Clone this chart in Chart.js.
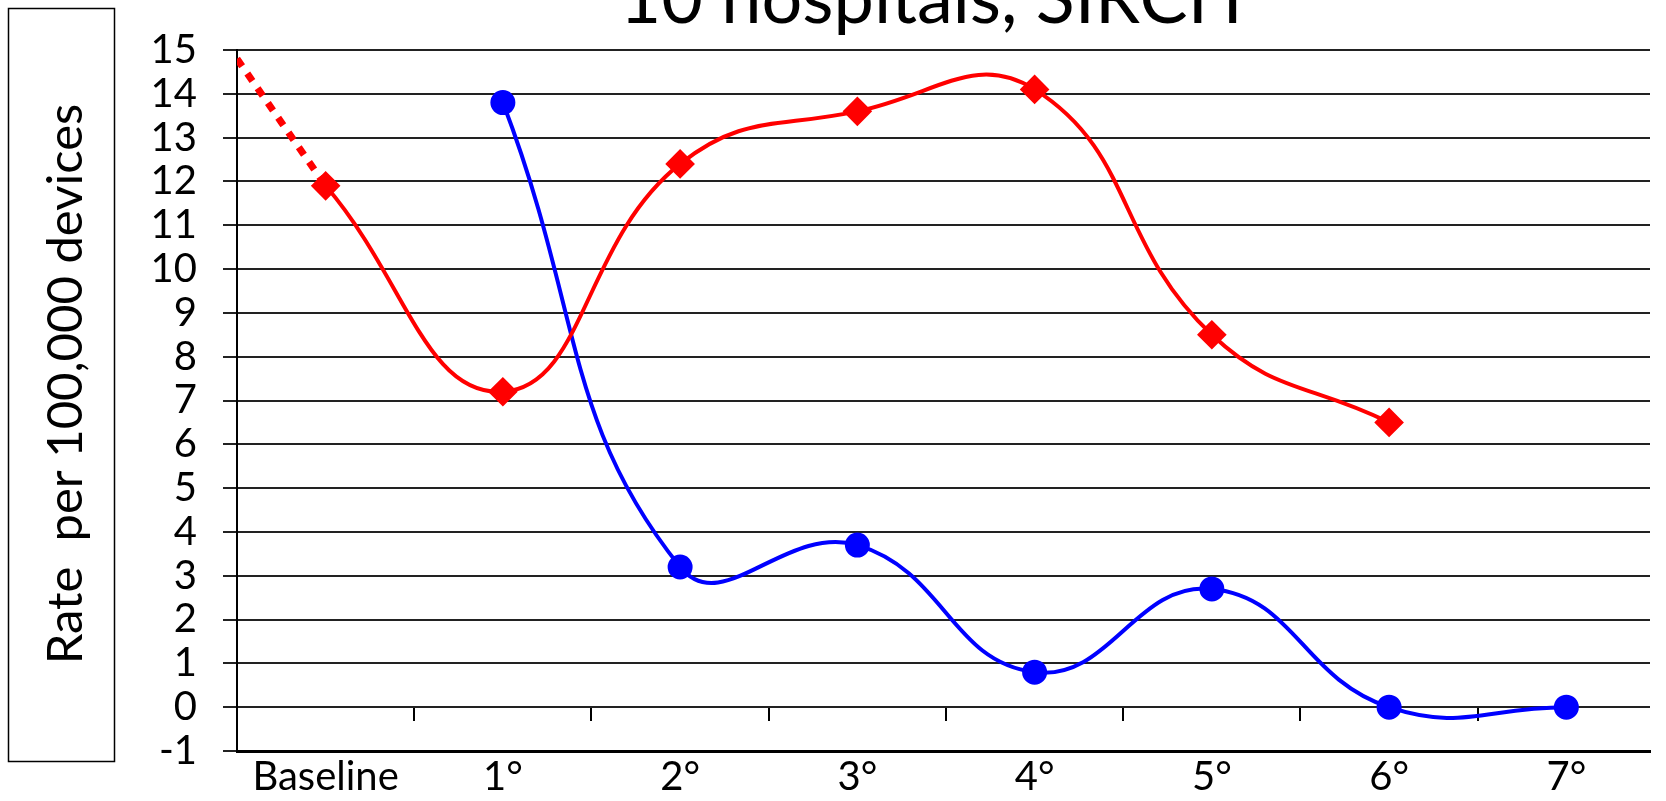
<!DOCTYPE html>
<html>
<head>
<meta charset="utf-8">
<script src="https://cdn.jsdelivr.net/npm/chart.js@4.4.1/dist/chart.umd.min.js"></script>
<style>
  html, body { margin: 0; padding: 0; background: #fff; }
  #wrap { width: 1666px; height: 801px; position: relative; }
</style>
</head>
<body>
<div id="wrap"><canvas id="mainChart"></canvas></div>
<script>
// categories on the x axis
const categories = ['Baseline', '1°', '2°', '3°', '4°', '5°', '6°', '7°'];
// red series (diamonds), null = no point
const redValues = [11.9, 7.2, 12.4, 13.6, 14.1, 8.5, 6.5, null];
// blue series (circles)
const blueValues = [null, 13.8, 3.2, 3.7, 0.8, 2.7, 0, 0];
// dotted red lead-in: value at left edge of the axis, then Baseline
const redLeadIn = [14.8, 11.9];
const yMin = -1, yMax = 15;

const titleText = '10 hospitals, SIRCH';
const yTitleText = 'Rate  per 100,000 devices';
const FONT = 'Lato';

function toPoints(vals) {
    return vals.map((v, i) => ({ x: i, y: v })).filter(p => p.y !== null);
}

// title + boxed y-axis label, drawn on the canvas
const textPlugin = {
    id: 'extraText',
    afterDraw(chart) {
        const ctx = chart.ctx;
        ctx.save();
        ctx.fillStyle = '#000';
        ctx.font = '72px ' + FONT;
        ctx.textAlign = 'center';
        ctx.textBaseline = 'alphabetic';
        ctx.fillText(titleText, 931, 23);

        ctx.strokeStyle = '#000';
        ctx.lineWidth = 1.5;
        ctx.strokeRect(8.5, 8.5, 106, 753);

        ctx.translate(66, 384);
        ctx.rotate(-Math.PI / 2);
        ctx.font = '49px ' + FONT;
        ctx.textBaseline = 'middle';
        ctx.fillText(yTitleText, 0, 0);
        ctx.restore();
    }
};

let chartInstance = null;

function initChart() {
    const ctx = document.getElementById('mainChart').getContext('2d');
    chartInstance = new Chart(ctx, {
        type: 'line',
        data: {
            datasets: [
                { data: redLeadIn.map((v, i) => ({ x: i === 0 ? -0.5 : 0, y: v })),
                  borderColor: '#ff0000', borderWidth: 7, borderDash: [9, 9], borderCapStyle: 'butt',
                  pointRadius: 0, tension: 0 },
                { data: toPoints(redValues), borderColor: '#ff0000', backgroundColor: '#ff0000',
                  borderWidth: 4, pointStyle: 'rectRot', pointRadius: 12, tension: 0.45 },
                { data: toPoints(blueValues), borderColor: '#0000ff', backgroundColor: '#0000ff',
                  borderWidth: 4, pointStyle: 'circle', pointRadius: 10.5, tension: 0.45 }
            ]
        },
        options: {
            responsive: true, maintainAspectRatio: false, animation: false,
            layout: { padding: { top: 44, right: 0, bottom: 0, left: 0 } },
            plugins: { legend: { display: false }, tooltip: { enabled: false }, title: { display: false } },
            scales: {
                x: {
                    type: 'linear', position: 'bottom', min: -0.5, max: 7.472,
                    afterBuildTicks: s => { s.ticks = categories.map((c, i) => ({ value: i })); },
                    ticks: { callback: v => categories[v], color: '#000', font: { family: FONT, size: 40 },
                             padding: 2, maxRotation: 0, autoSkip: false },
                    grid: { display: false, drawTicks: false },
                    border: { color: '#000', width: 3 },
                    afterFit: s => { s.height = 39; }
                },
                xTick: {
                    type: 'linear', position: { y: 0 }, min: -0.5, max: 7.472,
                    afterBuildTicks: s => { s.ticks = categories.slice(1).map((c, i) => ({ value: i + 0.5 })); },
                    ticks: { display: false },
                    grid: { drawOnChartArea: false, drawTicks: true, tickLength: 14, color: '#000', lineWidth: 2 },
                    border: { display: false }
                },
                y: {
                    min: yMin, max: yMax,
                    ticks: { stepSize: 1, autoSkip: false, color: '#000', font: { family: FONT, size: 40 }, padding: 26 },
                    grid: { color: '#222', lineWidth: 2, tickLength: 14 },
                    border: { color: '#000', width: 2 },
                    afterFit: s => { s.width = 237; }
                }
            }
        },
        plugins: [textPlugin]
    });
}

initChart();
window.chartInstance = chartInstance;
</script>
</body>
</html>
